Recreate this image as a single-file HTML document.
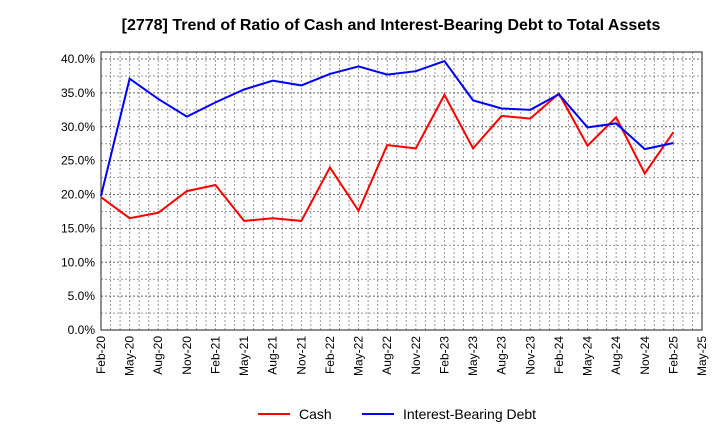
<!DOCTYPE html>
<html><head><meta charset="utf-8"><style>
body{margin:0;background:#fff;font-family:"Liberation Sans",sans-serif}
</style></head><body>
<svg id="c" width="720" height="440" xmlns="http://www.w3.org/2000/svg" font-family="Liberation Sans, sans-serif">
<text x="391" y="30" text-anchor="middle" font-size="16" font-weight="bold">[2778]  Trend of Ratio of Cash and Interest-Bearing Debt to Total Assets</text>
<g id="grid"></g>
<g id="axes"></g>
<g id="series"></g>
<g>
<g><line x1="258" y1="414" x2="290" y2="414" stroke="#f00" stroke-width="2"/><text x="299" y="419" font-size="14">Cash</text></g>
<g><line x1="362" y1="414" x2="394" y2="414" stroke="#00f" stroke-width="2"/><text x="403" y="419" font-size="14">Interest-Bearing Debt</text></g>
</g>
</svg>
<script>
const xLabels=["Feb-20","May-20","Aug-20","Nov-20","Feb-21","May-21","Aug-21","Nov-21","Feb-22","May-22","Aug-22","Nov-22","Feb-23","May-23","Aug-23","Nov-23","Feb-24","May-24","Aug-24","Nov-24","Feb-25","May-25"];
const yTicks=[0,5,10,15,20,25,30,35,40];
const cash=[19.6,16.5,17.3,20.5,21.4,16.1,16.5,16.1,24.0,17.6,27.3,26.8,34.7,26.8,31.6,31.2,34.9,27.2,31.4,23.1,29.2];
const debt=[19.8,37.1,34.1,31.5,33.6,35.5,36.8,36.1,37.8,38.9,37.7,38.2,39.7,33.9,32.7,32.5,34.8,29.9,30.5,26.7,27.6];
const L=101,R=702,T=52,B=330,NS="http://www.w3.org/2000/svg";
const xs=i=>L+(R-L)*i/(xLabels.length-1);
const ys=v=>B-(B-59)*v/40;
const grid=document.getElementById('grid'),axes=document.getElementById('axes'),ser=document.getElementById('series');
function mk(tag,attrs,parent){const e=document.createElementNS(NS,tag);for(const k in attrs)e.setAttribute(k,attrs[k]);parent.appendChild(e);return e;}
for(let i=0;i<=(xLabels.length-1)*3;i++){const x=L+(R-L)*i/((xLabels.length-1)*3);
const g=mk('line',{x1:x,y1:T,x2:x,y2:B,stroke:'#999','stroke-dasharray':'2,2','stroke-width':1},grid);
}
for(let v=0;v<=40;v+=2.5){const y=ys(v);
const g=mk('line',{x1:L,y1:y,x2:R,y2:y,stroke:v%5===0?'#666':'#999','stroke-dasharray':'2,2','stroke-width':1},grid);
}
const fr=mk('rect',{x:L,y:T,width:R-L,height:B-T,fill:'none',stroke:'#444','stroke-width':1.2},axes);

yTicks.forEach(v=>{const t=mk('text',{x:L-6,y:ys(v)+4,'text-anchor':'end','font-size':12},axes);t.textContent=v.toFixed(1)+'%';
});
xLabels.forEach((s,i)=>{const x=xs(i),y=B+6;const t=mk('text',{x:x+4,y:y,'text-anchor':'end','font-size':12,transform:`rotate(-90 ${x+4} ${y})`},axes);t.textContent=s;
});
function line(d,c,n){const p=mk('polyline',{points:d.map((v,i)=>xs(i)+','+ys(v)).join(' '),fill:'none',stroke:c,'stroke-width':2},ser);
}
line(cash,'#f00','cash-line');line(debt,'#00f','debt-line');
</script>
</body></html>
